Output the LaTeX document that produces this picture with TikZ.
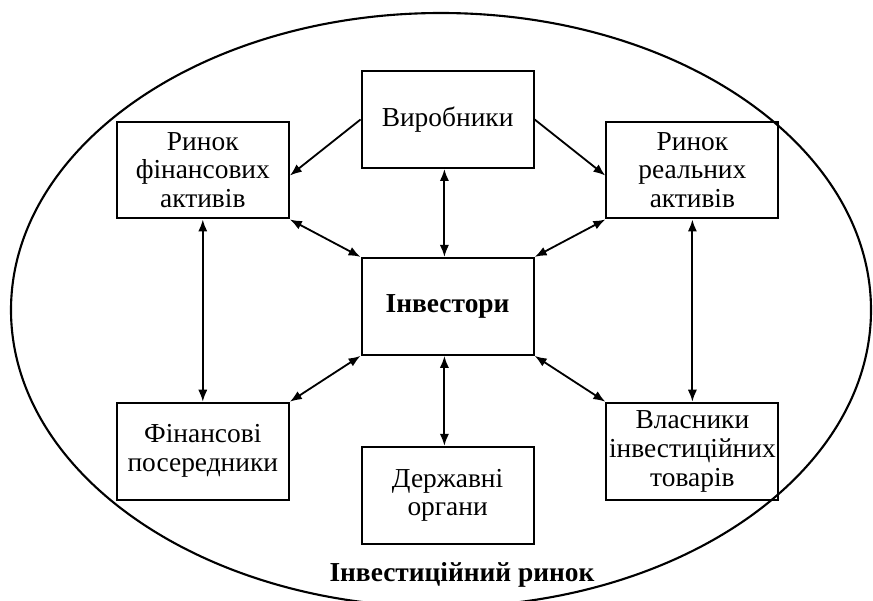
\documentclass[tikz,border=0pt]{standalone}
\usepackage{fontspec}
\setmainfont{Liberation Serif}
\usepackage{tikz}
\usetikzlibrary{positioning}
\usetikzlibrary{arrows.meta}

\begin{document}
\begin{tikzpicture}[
		block/.style={draw, line width=1.5pt, minimum width=4.3cm, minimum height=2.42cm,
			align=center, inner sep=1pt, font=\fontsize{19.5}{20.5}\selectfont},
		link/.style={line width=1.3pt, -{Latex[length=3mm, width=2.3mm]}},
		dlink/.style={line width=1.3pt, {Latex[length=3mm, width=2.3mm]}-{Latex[length=3mm, width=2.3mm]}},
	]
		
		% ---------------------
		% Proper size --- Bounding box
		\useasboundingbox (0.00cm, 0.00cm) rectangle (21.825cm, 15.00cm);
		
		% ---------------------
		% Market ellipse
		\coordinate (Market) at (11.025cm, 7.25cm);
		\draw[line width=1.5pt] (Market) ellipse [x radius=10.75cm, y radius=7.425cm];
		
		% ---------------------
		% Investors & surrounding blocks
		\coordinate (Centre) at (11.19cm, 7.34cm);
		
		\path (Centre) +(-6.12cm, +3.41cm) coordinate (FinPos);
		\path (Centre) +(+6.12cm, +3.41cm) coordinate (RealPos);
		\path (Centre) +(-6.12cm, -3.62cm) coordinate (InterPos);
		\path (Centre) +(+6.12cm, -3.62cm) coordinate (OwnPos);
		
		\node[block, font=\fontsize{19.5}{20.5}\selectfont\bfseries] (Inv) at (Centre) {Інвестори};
		\node[block, above=2.20cm of Inv] (Prod) {Виробники};
		\node[block, below=2.25cm of Inv] (Gov) {Державні\\органи};
		
		\node[block] (FinMkt) at (FinPos) {Ринок\\фінансових\\активів};
		\node[block] (RealMkt) at (RealPos) {Ринок\\реальних\\активів};
		\node[block] (Inter) at (InterPos) {Фінансові\\посередники};
		\node[block] (Owners) at (OwnPos) {Власники\\інвестиційних\\товарів};
		
		\node[font=\fontsize{19.5}{20.5}\selectfont\bfseries] (MarketLbl) at (11.55cm, 0.63cm) {Інвестиційний ринок};
		
		% ---------------------
		% Links
		\draw[link] (Prod.west) -- ([yshift=-0.14cm]FinMkt.east);
		\draw[link] (Prod.east) -- ([yshift=-0.14cm]RealMkt.west);
		
		\draw[dlink] ([xshift=-0.08cm]Prod.south) -- ([xshift=-0.08cm]Inv.north);
		\draw[dlink] ([xshift=-0.08cm]Inv.south) -- ([xshift=-0.08cm]Gov.north);
		
		\draw[dlink] (FinMkt.south east) -- (Inv.north west);
		\draw[dlink] (RealMkt.south west) -- (Inv.north east);
		\draw[dlink] (Inter.north east) -- (Inv.south west);
		\draw[dlink] (Owners.north west) -- (Inv.south east);
		
		\draw[dlink] (FinMkt.south) -- (Inter.north);
		\draw[dlink] (RealMkt.south) -- (Owners.north);
		
\end{tikzpicture}
\end{document}
